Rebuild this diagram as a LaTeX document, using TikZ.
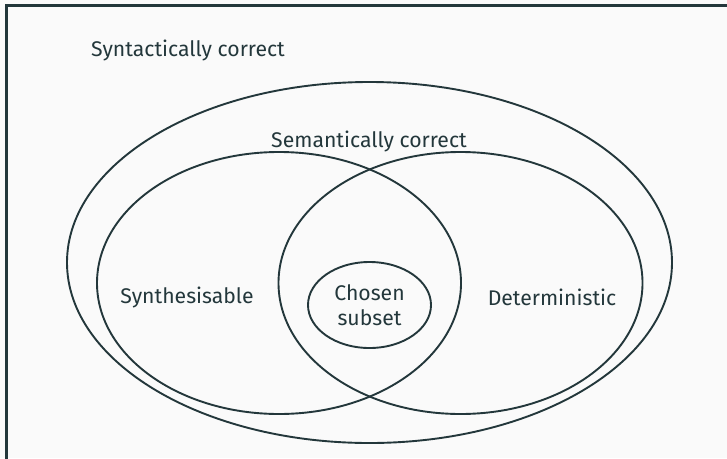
\documentclass[tikz,border=0pt]{standalone}
\usepackage{fontspec}
\setmainfont{Fira Sans}
\definecolor{mdark}{HTML}{23373B}
\definecolor{mbg}{HTML}{FAFAFA}
\begin{document}
\begin{tikzpicture}[x=1pt,y=-1pt,
  setshape/.style={draw=mdark,line width=1.9pt},
  lbl/.style={text=mdark,font=\fontsize{21.2}{25.5}\selectfont,align=center,inner sep=0pt}]
\useasboundingbox (0,0) rectangle (727,458);
\fill[mbg] (0,0) rectangle (727,458);
\begin{scope}
\clip (0,0) rectangle (727,458);
\draw[mdark,line width=2.6pt] (6.3,5.5) rectangle (800,520);
\end{scope}
\draw[setshape] (369.5,262.5) ellipse [x radius=302.5, y radius=180.5];
\draw[setshape] (279,283) ellipse [x radius=182, y radius=131];
\draw[setshape] (460.5,283) ellipse [x radius=182, y radius=131];
\draw[setshape] (369.5,305) ellipse [x radius=61.5, y radius=43];
\node[lbl] (syn) at (188,50) {Syntactically correct};
\node[lbl] (sem) at (369,141) {Semantically correct};
\node[lbl] (synth) at (187,297) {Synthesisable};
\node[lbl] (det) at (552,297) {Deterministic};
\node[lbl] (cho) at (369.5,305) {Chosen\\subset};
\end{tikzpicture}
\end{document}
